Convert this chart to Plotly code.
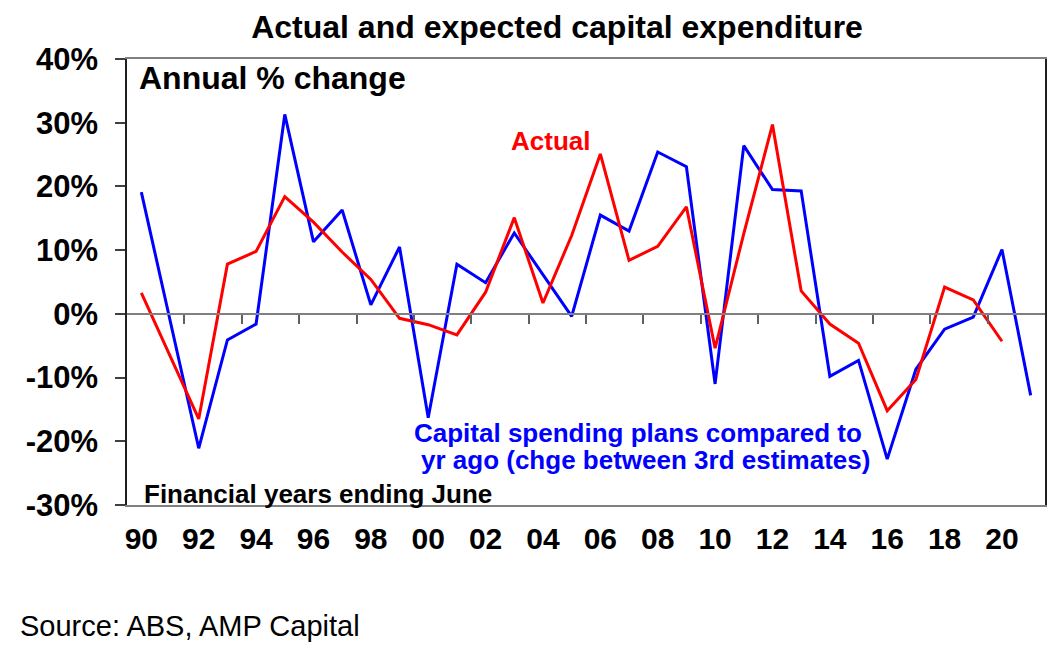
import plotly.graph_objects as go

# Financial years ending June, 1990 .. 2021
years = list(range(1990, 2022))
year_labels = [str(y)[2:] for y in years]

# Capital spending plans compared to yr ago (chge between 3rd estimates), %
plans = [19.1, -1.1, -21.1, -4.1, -1.6, 31.3, 11.3, 16.3, 1.4, 10.5,
         -16.3, 7.8, 4.9, 12.7, 6.1, -0.4, 15.5, 13.0, 25.4, 23.1,
         -11.0, 26.4, 19.5, 19.3, -9.8, -7.3, -22.8, -8.7, -2.4, -0.5,
         10.1, -12.8]

# Actual capex, annual % change (no value yet for 2021)
actual = [3.3, -6.6, -16.5, 7.8, 9.8, 18.4, 14.4, 9.7, 5.4, -0.7,
          -1.7, -3.3, 3.4, 15.1, 1.7, 12.3, 25.1, 8.4, 10.6, 16.8,
          -5.4, 12.6, 29.7, 3.6, -1.6, -4.6, -15.2, -10.3, 4.2, 2.2,
          -4.3, None]

y_ticks = [-30, -20, -10, 0, 10, 20, 30, 40]

FONT = "Arial, Liberation Sans, sans-serif"
idx = list(range(len(years)))

fig = go.Figure()

fig.add_trace(go.Scatter(x=idx, y=plans, mode='lines', name='Plans',
                         line=dict(color='#0000FF', width=3)))
fig.add_trace(go.Scatter(x=idx, y=actual, mode='lines', name='Actual',
                         line=dict(color='#FF0000', width=3)))
# empty trace so the zero-line axis gets drawn
fig.add_trace(go.Scatter(x=[None], y=[None], xaxis='x2', yaxis='y',
                         showlegend=False, hoverinfo='skip'))

x_range = [-0.5, len(years) - 0.5]

# page body adds an 8px offset, so the figure is 8px smaller than the window
fig.update_layout(
    width=1053, height=649,
    margin=dict(l=119, r=16, t=51, b=152),
    paper_bgcolor='white', plot_bgcolor='white',
    showlegend=False,
    font=dict(family=FONT, color='black'),
    title=dict(text='<b>Actual and expected capital expenditure</b>',
               x=0.5214, xanchor='center', y=0.971, yanchor='middle',
               font=dict(size=32, family=FONT)),
    xaxis=dict(range=x_range, tickmode='array', tickvals=idx[::2],
               ticktext=['<b>%s</b>' % t for t in year_labels[::2]],
               tickfont=dict(size=30), ticks='', ticklabelstandoff=6,
               showgrid=False, zeroline=False, showline=True, mirror=True,
               linecolor='#808080', linewidth=1.5),
    xaxis2=dict(overlaying='x', anchor='free', position=3 / 7, range=x_range,
                tickmode='array', tickvals=[i + 0.5 for i in idx[1:-1:2]],
                ticks='outside', ticklen=9, tickwidth=1.5, tickcolor='#606060',
                showticklabels=False, showgrid=False, zeroline=False,
                showline=True, linecolor='#808080', linewidth=1.5),
    yaxis=dict(range=[-30, 40], tickmode='array', tickvals=y_ticks,
               ticktext=['<b>%d%%</b>' % v for v in y_ticks],
               tickfont=dict(size=31), ticks='outside', ticklen=10,
               tickwidth=1.5, tickcolor='#404040', ticklabelstandoff=11,
               showgrid=False, zeroline=False, showline=True, mirror=True,
               linecolor='#202020', linewidth=1.5),
)

annotations = [
    dict(text='<b>Annual % change</b>', x=0.0109, y=0.957, xanchor='left',
         yanchor='middle', font=dict(size=32, color='black')),
    dict(text='<b>Actual</b>', x=0.4608, y=0.816, xanchor='center',
         yanchor='middle', font=dict(size=26, color='#FF0000')),
    dict(text='<b>Capital spending plans compared to</b>', x=(638 - 127) / 918,
         y=(505 - 433) / 446, xanchor='center', yanchor='middle',
         font=dict(size=26, color='#0000FF')),
    dict(text='<b>yr ago (chge between 3rd estimates)</b>', x=(645 - 127) / 918,
         y=(505 - 460) / 446, xanchor='center', yanchor='middle',
         font=dict(size=26, color='#0000FF')),
    dict(text='<b>Financial years ending June</b>', x=(142 - 127) / 918,
         y=(505 - 494) / 446, xanchor='left', yanchor='middle',
         font=dict(size=26, color='black')),
    dict(text='Source: ABS, AMP Capital', x=(18 - 127) / 918,
         y=(505 - 626) / 446, xanchor='left', yanchor='middle',
         font=dict(size=29, color='black')),
]
for a in annotations:
    a.update(xref='paper', yref='paper', showarrow=False)
fig.update_layout(annotations=annotations)

fig.write_html("out.html")
